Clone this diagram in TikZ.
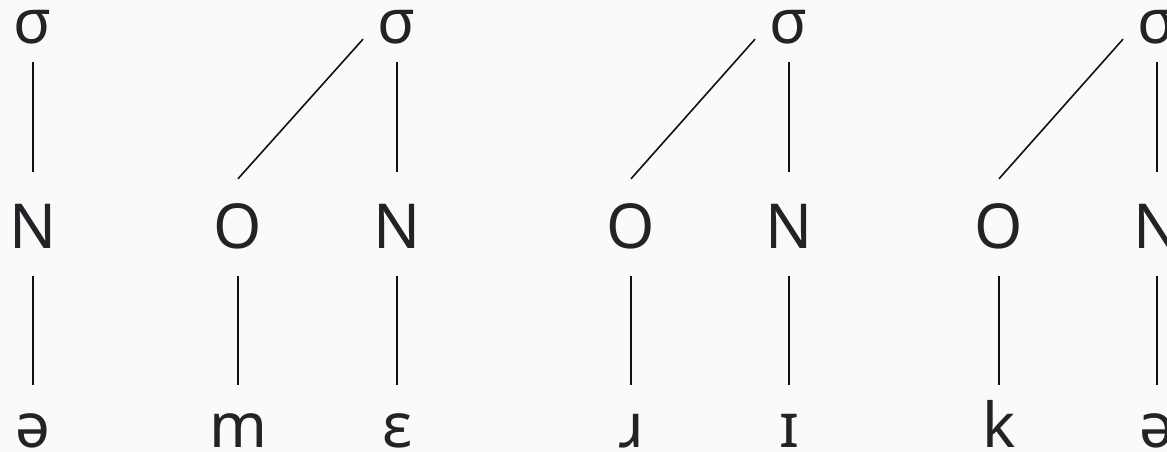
\documentclass[tikz,border=0pt]{standalone}
\usepackage{fontspec}
\setmainfont{Noto Sans}
\usetikzlibrary{calc}
\definecolor{bg}{HTML}{FAFAFA}
\definecolor{txt}{HTML}{222326}
\definecolor{ln}{HTML}{111111}
\begin{document}
\begin{tikzpicture}[x=1pt,y=-1pt,
  lab/.style={anchor=base,inner sep=0pt,text height=45pt,text depth=0pt,
    text=txt,font=\fontsize{62}{74}\selectfont},
  upper/.style={draw=ln,line width=1.6pt,shorten <=18pt,shorten >=31pt},
  lower/.style={draw=ln,line width=1.6pt,shorten <=28pt,shorten >=17pt},
  diag/.style={draw=ln,line width=1.6pt}]
\fill[bg] (0,0) rectangle (1167,452);
\useasboundingbox (0,0) rectangle (1167,452);
\clip (0,0) rectangle (1167,452);
% syllable 1
\node[lab] (s1) at (33,44) {σ};
\node[lab] (n1) at (33,248) {N};
\node[lab] (b1) at (33,447) {ə};
% syllable 2
\node[lab] (s2) at (397,44) {σ};
\node[lab] (o2) at (238,248) {O};
\node[lab] (n2) at (397,248) {N};
\node[lab] (c2) at (238,447) {m};
\node[lab] (v2) at (397,447) {ɛ};
% syllable 3
\node[lab] (s3) at (789,44) {σ};
\node[lab] (o3) at (631,248) {O};
\node[lab] (n3) at (789,248) {N};
\node[lab] (c3) at (631,447) {ɹ};
\node[lab] (v3) at (789,447) {ɪ};
% syllable 4
\node[lab] (s4) at (1157,44) {σ};
\node[lab] (o4) at (999,248) {O};
\node[lab] (n4) at (1157,248) {N};
\node[lab] (c4) at (999,447) {k};
\node[lab] (v4) at (1157,447) {ə};
% connectors
\draw[upper] (s1.south) -- (n1.north);
\draw[lower] (n1.south) -- (b1.north);
\foreach \i in {2,3,4}{
  \draw[upper] (s\i.south) -- (n\i.north);
  \draw[lower] (n\i.south) -- (v\i.north);
  \draw[lower] (o\i.south) -- (c\i.north);
  \draw[diag] ([yshift=24pt]o\i.north) -- ([xshift=-34pt,yshift=5pt]s\i.south);
}
\end{tikzpicture}
\end{document}
